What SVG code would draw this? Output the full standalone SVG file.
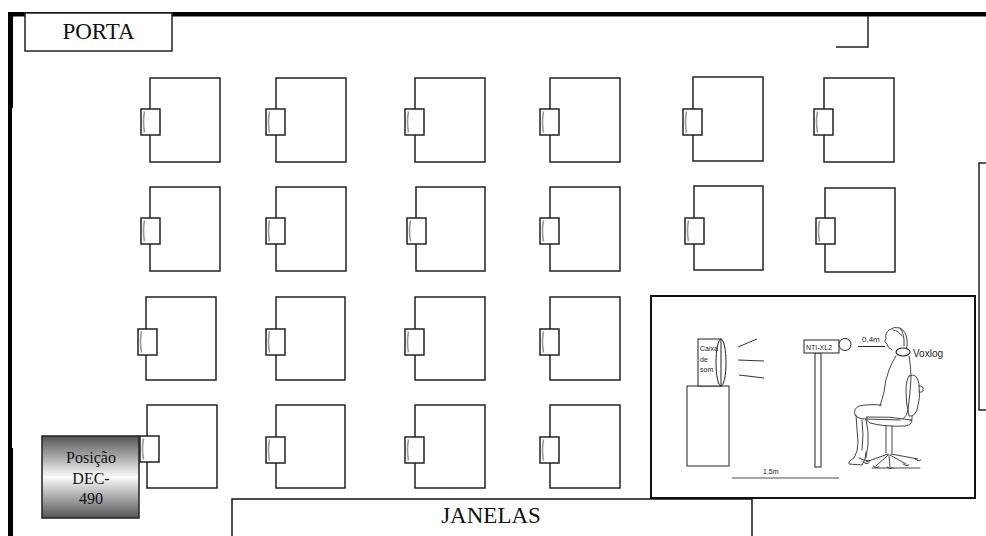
<svg xmlns="http://www.w3.org/2000/svg" width="986" height="536" viewBox="0 0 986 536">
  <style>
    .desk { fill: none; stroke: #222; stroke-width: 1.5; }
    .chair { fill: #fff; stroke: #222; stroke-width: 1.5; }
    .back { fill: none; stroke: #999; stroke-width: 1.6; }
    .label { font-family: "Liberation Serif", "Times New Roman", serif; fill: #111; }
    .small { font-family: "Liberation Sans", Arial, sans-serif; fill: #222; }
    .sketch { fill: none; stroke: #444; stroke-width: 1; stroke-linecap: round; stroke-linejoin: round; }
    .frame { fill: #fff; stroke: #111; stroke-width: 2; }
  </style>
  <defs>
    <linearGradient id="dec" x1="0" y1="0" x2="0" y2="1">
      <stop offset="0" stop-color="#555"/>
      <stop offset="0.5" stop-color="#fafafa"/>
      <stop offset="1" stop-color="#555"/>
    </linearGradient>
    <!-- student chair seen from above: seat with curved backrest -->
    <g id="chair">
      <rect class="chair" x="0" y="0" width="19" height="26"/>
      <path class="back" d="M3.5 2.5 Q1.5 13 3.5 23.5"/>
    </g>
  </defs>

  <rect width="986" height="536" fill="#fff"/>

  <!-- walls -->
  <g id="walls">
    <rect x="8" y="12" width="978" height="4.5" fill="#000"/>
    <rect x="8" y="12" width="5" height="96" fill="#000"/>
    <rect x="8" y="108" width="4" height="340" fill="#000"/>
    <rect x="8" y="448" width="5" height="88" fill="#000"/>
    <path d="M868 16 V47 H836" fill="none" stroke="#222" stroke-width="1.5"/>
  </g>

  <g id="porta">
    <rect x="25" y="13" width="147" height="38" fill="#fff" stroke="#222" stroke-width="1.5"/>
    <text class="label" x="98.5" y="38.5" font-size="23" text-anchor="middle">PORTA</text>
  </g>

  <!-- desks with chairs, row by row -->
  <g id="desks">
    <g id="r1c1"><rect class="desk" x="150" y="78" width="70" height="84"/><use href="#chair" x="141" y="109"/></g>
    <g id="r1c2"><rect class="desk" x="276" y="78" width="70" height="84"/><use href="#chair" x="266" y="109"/></g>
    <g id="r1c3"><rect class="desk" x="415" y="78" width="70" height="84"/><use href="#chair" x="405" y="109"/></g>
    <g id="r1c4"><rect class="desk" x="550" y="78" width="70" height="84"/><use href="#chair" x="540" y="109"/></g>
    <g id="r1c5"><rect class="desk" x="693" y="77" width="70" height="84"/><use href="#chair" x="683" y="109"/></g>
    <g id="r1c6"><rect class="desk" x="824" y="78" width="70" height="84"/><use href="#chair" x="814" y="109"/></g>

    <g id="r2c1"><rect class="desk" x="150" y="187" width="70" height="84"/><use href="#chair" x="141" y="218"/></g>
    <g id="r2c2"><rect class="desk" x="276" y="187" width="70" height="84"/><use href="#chair" x="266" y="218"/></g>
    <g id="r2c3"><rect class="desk" x="416" y="187" width="69" height="84"/><use href="#chair" x="407" y="218"/></g>
    <g id="r2c4"><rect class="desk" x="550" y="187" width="70" height="84"/><use href="#chair" x="540" y="218"/></g>
    <g id="r2c5"><rect class="desk" x="694" y="186" width="69" height="84"/><use href="#chair" x="685" y="218"/></g>
    <g id="r2c6"><rect class="desk" x="825" y="188" width="70" height="84"/><use href="#chair" x="816" y="218"/></g>

    <g id="r3c1"><rect class="desk" x="146" y="297" width="70" height="83"/><use href="#chair" x="138" y="329"/></g>
    <g id="r3c2"><rect class="desk" x="276" y="297" width="69" height="83"/><use href="#chair" x="266" y="329"/></g>
    <g id="r3c3"><rect class="desk" x="415" y="297" width="70" height="83"/><use href="#chair" x="405" y="329"/></g>
    <g id="r3c4"><rect class="desk" x="550" y="297" width="70" height="83"/><use href="#chair" x="540" y="329"/></g>

    <g id="r4c1"><rect class="desk" x="147" y="405" width="70" height="83"/><use href="#chair" x="140" y="436"/></g>
    <g id="r4c2"><rect class="desk" x="276" y="405" width="69" height="83"/><use href="#chair" x="266" y="437"/></g>
    <g id="r4c3"><rect class="desk" x="415" y="405" width="70" height="83"/><use href="#chair" x="405" y="437"/></g>
    <g id="r4c4"><rect class="desk" x="550" y="405" width="70" height="83"/><use href="#chair" x="540" y="437"/></g>
  </g>

  <g id="dec490">
    <rect x="42" y="436" width="97" height="82" fill="url(#dec)" stroke="#222" stroke-width="1.5"/>
    <text class="label" x="91" y="463" font-size="16" text-anchor="middle">Posição</text>
    <text class="label" x="91" y="483.5" font-size="16" text-anchor="middle">DEC-</text>
    <text class="label" x="91" y="504" font-size="16" text-anchor="middle">490</text>
  </g>

  <g id="janelas">
    <path d="M232 537 V499 H752 V537" fill="#fff" stroke="#111" stroke-width="1.5"/>
    <text class="label" x="491" y="523" font-size="23" text-anchor="middle">JANELAS</text>
  </g>

  <g id="quadro">
    <path d="M987 163 H979 V410 H987" fill="none" stroke="#222" stroke-width="1.5"/>
  </g>

  <!-- measurement setup inset -->
  <g id="setup">
    <rect class="frame" x="651" y="296" width="324" height="202"/>

    <g id="speaker">
      <rect x="687" y="386" width="42" height="80" fill="#fff" stroke="#222" stroke-width="1"/>
      <rect x="698" y="339" width="23" height="47" fill="#fff" stroke="#222" stroke-width="1"/>
      <text class="small" x="700" y="351" font-size="7">Caixa</text>
      <text class="small" x="700" y="362" font-size="7">de</text>
      <text class="small" x="700" y="372" font-size="7">som</text>
      <ellipse cx="721" cy="362.5" rx="5" ry="23.5" fill="none" stroke="#222" stroke-width="1"/>
      <path d="M738 347 L757 339 M738 360 L764 361 M739 375 L764 378" fill="none" stroke="#333" stroke-width="1"/>
    </g>

    <g id="nti-xl2">
      <rect x="815" y="353" width="6" height="114" fill="#fff" stroke="#222" stroke-width="1"/>
      <rect x="804" y="340" width="35" height="13" fill="#fff" stroke="#222" stroke-width="1"/>
      <text class="small" x="806" y="349.5" font-size="7">NTI-XL2</text>
      <circle cx="845" cy="344.5" r="6" fill="#fff" stroke="#222" stroke-width="1"/>
      <text class="small" x="862" y="342" font-size="8">0,4m</text>
      <line x1="858" y1="346.5" x2="885" y2="346.5" stroke="#222" stroke-width="1"/>
    </g>

    <g id="distance">
      <line x1="732" y1="478" x2="839" y2="478" stroke="#888" stroke-width="1.5"/>
      <text class="small" x="763" y="474" font-size="7">1,5m</text>
    </g>

    <g id="person">
      <!-- head and hair -->
      <path class="sketch" d="M892 350 Q887 347 887 344 L884.5 341 L886 338.5 Q885 333 889 330 Q894 326 900 328 Q906 331 907 340 Q908 346 906 349"/>
      <path class="sketch" d="M893 330 Q899 331 902 336 M900 328 Q905 334 904 346"/>
      <!-- voxlog collar -->
      <ellipse cx="903" cy="352" rx="7" ry="4" fill="#fff" stroke="#222" stroke-width="1.2"/>
      <text class="small" x="913" y="357" font-size="10">Voxlog</text>
      <!-- torso -->
      <path class="sketch" d="M896 356 Q892 362 889 370 Q885 380 884 392 Q882 400 880 406"/>
      <path class="sketch" d="M909 356 Q911 366 911 378 Q910 396 908 410 Q907 416 903 419"/>
      <!-- thigh -->
      <path class="sketch" d="M881 405 Q868 404 859 406 Q853 409 855 415 Q858 419 866 419 L900 420"/>
      <!-- lower legs and feet -->
      <path class="sketch" d="M856 415 Q857 430 858 442 Q858 452 854 458 Q848 461 849 464 L862 465 Q866 460 866 452"/>
      <path class="sketch" d="M866 419 Q869 432 868 444 Q867 452 866 458"/>
      <path class="sketch" d="M862 420 Q864 435 862 450 M859 458 Q864 461 870 461"/>
      <!-- chair backrest and knob -->
      <path class="sketch" d="M909 376 Q917 372 919 384 Q921 398 917 410 Q914 417 909 416 Q906 404 906 392 Q906 380 909 376 Z"/>
      <path class="sketch" d="M919 386 Q924 385 923 391 Q921 393 919 392"/>
      <path class="sketch" d="M912 416 Q913 420 910 421"/>
      <!-- seat -->
      <path class="sketch" d="M867 417 Q890 416 912 420 Q912 425 905 426 Q885 427 870 423 Q866 421 867 417 Z"/>
      <!-- post and base -->
      <path class="sketch" d="M886 426 L886 453 M892 426 L892 453"/>
      <path class="sketch" d="M888 454 L866 462 M888 455 L876 466 M889 455 L890 467 M890 455 L906 464 M891 454 L918 459"/>
      <path class="sketch" d="M863 462 Q866 465 869 463 M873 466 Q876 469 879 467 M887 467 Q890 470 893 468 M903 464 Q906 467 909 465 M915 459 Q919 462 921 460"/>
      <path class="sketch" d="M872 468 L920 468" stroke="#aaa"/>
    </g>
  </g>
</svg>
